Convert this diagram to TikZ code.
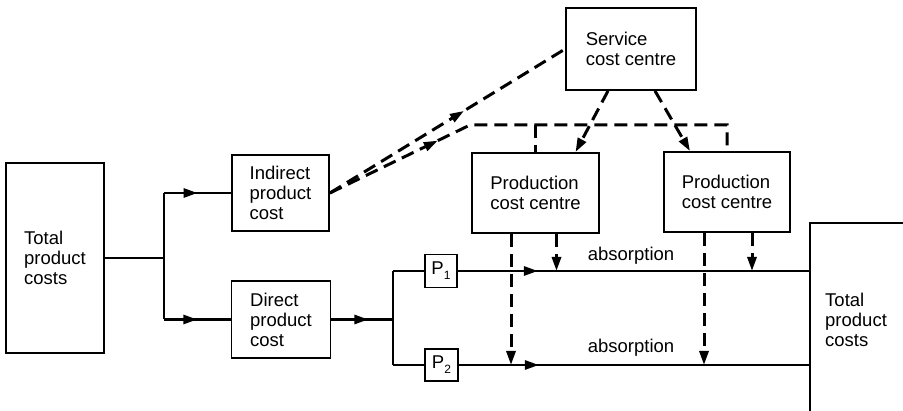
\documentclass[tikz,border=0pt]{standalone}
\usepackage{fontspec}
\setmainfont{Liberation Sans}
\usetikzlibrary{arrows.meta,decorations.markings}

\begin{document}
\begin{tikzpicture}[x=1pt, y=-1pt,
    every node/.style={font=\fontsize{18.5}{20}\selectfont, align=left},
    box/.style={draw, line width=1.8pt, inner sep=0pt},
    flow/.style={line width=2.8pt},
    link/.style={line width=3pt, dash pattern=on 13pt off 7pt},
    ahead/.style={-{Triangle[length=14pt,width=9pt]}},
    midarrow/.style={postaction={decorate}, decoration={markings,
        mark=at position #1 with {\arrow{Triangle[length=14pt,width=9pt]}}}}]
    \clip (0,0) rectangle (903,411);
    \node[box, minimum width=98pt, minimum height=190pt] (totL) at (55,258) {Total\\product\\costs};
    \node[box, minimum width=97pt, minimum height=76pt] (ind) at (280.5,193) {Indirect\\product\\cost};
    \node[box, minimum width=99pt, minimum height=77pt] (dir) at (281,319.5) {Direct\\product\\cost};
    \node[box, minimum width=130pt, minimum height=82pt] (serv) at (631,49) {Service\\cost centre};
    \node[box, minimum width=127pt, minimum height=80pt] (pcc1) at (535.5,193) {Production\\cost centre};
    \node[box, minimum width=126pt, minimum height=80pt] (pcc2) at (727,192) {Production\\cost centre};
    \node[box, minimum width=32pt, minimum height=33pt] (p1) at (441,271) {P\raisebox{-5pt}{\fontsize{12}{12}\selectfont 1}};
    \node[box, minimum width=33pt, minimum height=32pt] (p2) at (441.5,365) {P\raisebox{-5pt}{\fontsize{12}{12}\selectfont 2}};
    \node[box, minimum width=200pt, minimum height=260pt, anchor=north west] (totR) at (809,222) {};
    \node[anchor=north west, inner sep=0pt] (totRtxt) at (825,292.5) {Total\\product\\costs};
    \node[anchor=base] (abs1) at (631,261) {absorption};
    \node[anchor=base] (abs2) at (631,353) {absorption};

    \coordinate (s1) at (164,258);
    \draw[flow] (totL.east) -- (s1);
    \draw[flow] (s1 |- ind.west) -- (s1 |- dir.west);
    \draw[flow, midarrow=0.5] (s1 |- ind.west) -- (ind.west);
    \draw[flow, midarrow=0.5] (s1 |- dir.west) -- (dir.west);
    \coordinate (s2) at (393,319.5);
    \draw[flow, midarrow=0.6] (dir.east) -- (s2);
    \draw[flow] (s2 |- p1.west) -- (s2 |- p2.west);
    \draw[flow] (s2 |- p1.west) -- (p1.west);
    \draw[flow] (s2 |- p2.west) -- (p2.west);
    \draw[flow, midarrow=80pt] (p1.east) -- (p1.east -| totR.west);
    \draw[flow, midarrow=80pt] (p2.east) -- (p2.east -| totR.west);

    \coordinate (bend) at (470,125);
    \draw[link, midarrow=0.57] (ind.east) -- (serv.west);
    \draw[link, midarrow=120pt] (ind.east) -- (bend) -| (pcc2.north);
    \draw[link] (pcc1.north |- bend) -- (pcc1.north);
    \draw[link, ahead] ([xshift=-23pt]serv.south) -- ([xshift=40pt]pcc1.north);
    \draw[link, ahead] ([xshift=24pt]serv.south) -- ([xshift=-37pt]pcc2.north);

    \coordinate (d1) at ([xshift=-24.5pt]pcc1.south);
    \coordinate (d2) at ([xshift=21pt]pcc1.south);
    \coordinate (d3) at ([xshift=-23pt]pcc2.south);
    \coordinate (d4) at ([xshift=25pt]pcc2.south);
    \draw[link, ahead] (d1) -- (d1 |- p2.east);
    \draw[link, ahead] (d2) -- (d2 |- p1.east);
    \draw[link, ahead] (d3) -- (d3 |- p2.east);
    \draw[link, ahead] (d4) -- (d4 |- p1.east);
\end{tikzpicture}
\end{document}
